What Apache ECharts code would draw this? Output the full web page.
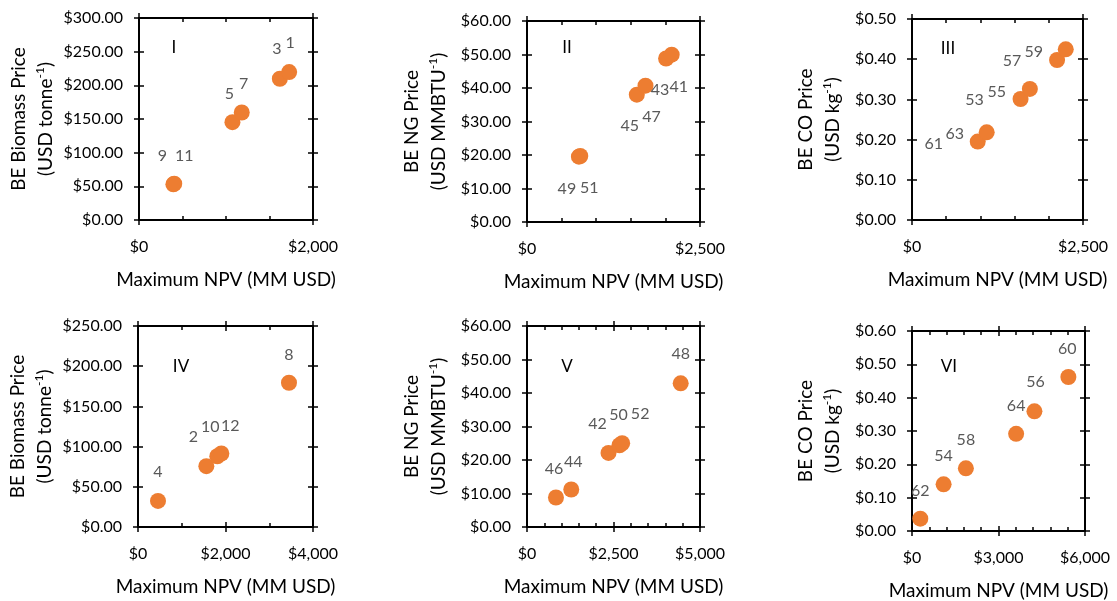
<!DOCTYPE html>
<html><head><meta charset="utf-8">
<script src="https://cdn.jsdelivr.net/npm/echarts@6/dist/echarts.min.js"></script>
<style>html,body{margin:0;padding:0;background:#fff}#c{width:1117px;height:601px}</style>
</head><body><div id="c"></div>
<script>
// ---------- DATA ----------
// Panel I
const p1Ids   = ['9','11','5','7','3','1'];
const p1NPV   = [395, 405, 1074, 1181, 1619, 1726];
const p1Price = [53, 54, 145.3, 159.7, 209.8, 219.7];
// Panel II
const p2Ids   = ['49','51','45','47','43','41'];
const p2NPV   = [750, 770, 1587, 1712, 2010, 2091];
const p2Price = [19.5, 19.7, 38.0, 40.7, 48.8, 49.95];
// Panel III
const p3Ids   = ['61','63','53','55','57','59'];
const p3NPV   = [961, 1092, 1587, 1723, 2121, 2248];
const p3Price = [0.195, 0.218, 0.301, 0.326, 0.398, 0.4245];
// Panel IV
const p4Ids   = ['4','2','10','12','8'];
const p4NPV   = [457, 1562, 1813, 1905, 3451];
const p4Price = [32.4, 75.6, 88, 91.4, 179.4];
// Panel V
const p5Ids   = ['46','44','42','50','52','48'];
const p5NPV   = [837, 1279, 2356, 2673, 2750, 4442];
const p5Price = [8.8, 11.2, 22.1, 24.4, 25.0, 42.9];
// Panel VI
const p6Ids   = ['62','54','58','64','56','60'];
const p6NPV   = [288, 1096, 1869, 3612, 4246, 5423];
const p6Price = [0.037, 0.14, 0.188, 0.2915, 0.359, 0.462];

const panelNames = ['I','II','III','IV','V','VI'];
const xTitle = 'Maximum NPV (MM USD)';
const yTitles = [
  'BE Biomass Price\n(USD tonne{s|-1})',
  'BE NG Price\n(USD MMBTU{s|-1})',
  'BE CO Price\n(USD kg{s|-1})'
];

// ---------- LABEL PLACEMENT (style) ----------
const p1Off = [[-11,-28],[10,-28],[-3,-28],[2,-29],[-3,-30],[1,-29]];
const p2Off = [[-12,32],[9,32],[-7,31],[6,31],[-6,31],[7,32]];
const p3Off = [[-44,2],[-32,1],[-46,1],[-33,3],[-45,1],[-32,2]];
const p4Off = [[0,-29],[-13,-29],[-7,-29],[9,-28],[0,-28]];
const p5Off = [[-2,-29],[2,-28],[-11,-29],[-1,-30],[18,-29],[0,-29]];
const p6Off = [[0,-28],[0,-28],[0,-28],[0,-28],[1,-29],[-1,-28]];

// ---------- LAYOUT ----------
const FONT = 'Lato';
const panels = [
  {ids:p1Ids,x:p1NPV,y:p1Price,off:p1Off,grid:[139,18,174,202],xMax:2000,xInt:2000,xMinor:4,yMax:300,yInt:50,yTitle:0,yGap:80,name:[174,48]},
  {ids:p2Ids,x:p2NPV,y:p2Price,off:p2Off,grid:[527,21,173,201],xMax:2500,xInt:2500,xMinor:5,yMax:60,yInt:10,yTitle:1,yGap:75,name:[567,48]},
  {ids:p3Ids,x:p3NPV,y:p3Price,off:p3Off,grid:[912,19,171,201],xMax:2500,xInt:2500,xMinor:5,yMax:0.5,yInt:0.1,yTitle:2,yGap:66,name:[948,49]},
  {ids:p4Ids,x:p4NPV,y:p4Price,off:p4Off,grid:[138,326,175,201],xMax:4000,xInt:2000,xMinor:2,yMax:250,yInt:50,yTitle:0,yGap:80,name:[181,367]},
  {ids:p5Ids,x:p5NPV,y:p5Price,off:p5Off,grid:[527,326,173,201],xMax:5000,xInt:2500,xMinor:5,yMax:60,yInt:10,yTitle:1,yGap:75,name:[567,367]},
  {ids:p6Ids,x:p6NPV,y:p6Price,off:p6Off,grid:[912,331,173,200],xMax:6000,xInt:3000,xMinor:5,yMax:0.6,yInt:0.1,yTitle:2,yGap:66,name:[949,367]}
];

const grids = [], xAxes = [], yAxes = [], series = [], graphics = [];
const lineStyle = {color:'#000', width:2};
const tickStyle = {color:'#000', width:1.5};

panels.forEach((p, gi) => {
  grids.push({left:p.grid[0], top:p.grid[1], width:p.grid[2], height:p.grid[3],
              containLabel:false, outerBoundsMode:'none'});
  const xBase = {type:'value', gridIndex:gi, min:0, max:p.xMax, interval:p.xInt,
                 splitLine:{show:false}, axisLine:{show:true, onZero:false, lineStyle:lineStyle}};
  const xi = xAxes.length;
  xAxes.push(Object.assign({}, xBase, {
    position:'bottom',
    axisTick:{show:true, inside:false, length:5, lineStyle:tickStyle},
    axisLabel:{show:true, margin:19, fontSize:16, fontFamily:FONT, color:'#000',
               formatter: v => '$' + v.toLocaleString('en-US')},
    name:xTitle, nameLocation:'middle', nameGap:50, nameMoveOverlap:false,
    nameTextStyle:{fontSize:19, fontFamily:FONT, color:'#000'}
  }));
  xAxes.push(Object.assign({}, xBase, {
    position:'bottom', axisLabel:{show:false},
    axisTick:{show:true, inside:true, length:5, lineStyle:tickStyle},
    minorTick:{show:true, splitNumber:p.xMinor, length:4, lineStyle:{color:'#000', width:1.5}}
  }));
  xAxes.push(Object.assign({}, xBase, {
    position:'top', axisLabel:{show:false},
    axisTick:{show:true, inside:false, length:5, lineStyle:tickStyle}
  }));
  xAxes.push(Object.assign({}, xBase, {
    position:'top', axisLabel:{show:false},
    axisTick:{show:true, inside:true, length:5, lineStyle:tickStyle},
    minorTick:{show:true, splitNumber:p.xMinor, length:4, lineStyle:{color:'#000', width:1.5}}
  }));

  const yBase = {type:'value', gridIndex:gi, min:0, max:p.yMax, interval:p.yInt,
                 splitLine:{show:false}, axisLine:{show:true, onZero:false, lineStyle:lineStyle}};
  const yi = yAxes.length;
  yAxes.push(Object.assign({}, yBase, {
    position:'left',
    axisTick:{show:true, inside:false, length:5, lineStyle:tickStyle},
    axisLabel:{show:true, margin:16, fontSize:16, fontFamily:FONT, color:'#000',
               formatter: v => '$' + v.toFixed(2)},
    name:yTitles[p.yTitle], nameLocation:'middle', nameGap:p.yGap, nameRotate:90,
    nameMoveOverlap:false,
    nameTextStyle:{fontSize:19, fontFamily:FONT, color:'#000', lineHeight:27, align:'center',
                   rich:{s:{fontSize:12, fontFamily:FONT, color:'#000', verticalAlign:'top', padding:[2,0,0,0]}}}
  }));
  yAxes.push(Object.assign({}, yBase, {
    position:'left', axisLabel:{show:false},
    axisTick:{show:true, inside:true, length:5, lineStyle:tickStyle}
  }));
  yAxes.push(Object.assign({}, yBase, {
    position:'right', axisLabel:{show:false},
    axisTick:{show:true, inside:false, length:5, lineStyle:tickStyle}
  }));
  yAxes.push(Object.assign({}, yBase, {
    position:'right', axisLabel:{show:false},
    axisTick:{show:true, inside:true, length:5, lineStyle:tickStyle}
  }));

  series.push({
    type:'scatter', xAxisIndex:xi, yAxisIndex:yi,
    symbol:'circle', symbolSize:16,
    itemStyle:{color:'#ED7D31', opacity:1},
    label:{show:true, position:'inside', fontSize:16, fontFamily:FONT, color:'#595959',
           formatter: prm => prm.name},
    emphasis:{disabled:true},
    data: p.x.map((xv, i) => ({name:p.ids[i], value:[xv, p.y[i]], label:{offset:p.off[i]}}))
  });

  graphics.push({type:'text', x:p.name[0], y:p.name[1],
    style:{text:panelNames[gi], fontSize:17, fontFamily:FONT, fill:'#000',
           textAlign:'center', textVerticalAlign:'middle'}});
});

const chart = echarts.init(document.getElementById('c'), null, {renderer:'canvas'});
chart.setOption({
  animation:false,
  backgroundColor:'#fff',
  grid:grids, xAxis:xAxes, yAxis:yAxes, series:series, graphic:graphics
});
</script></body></html>
